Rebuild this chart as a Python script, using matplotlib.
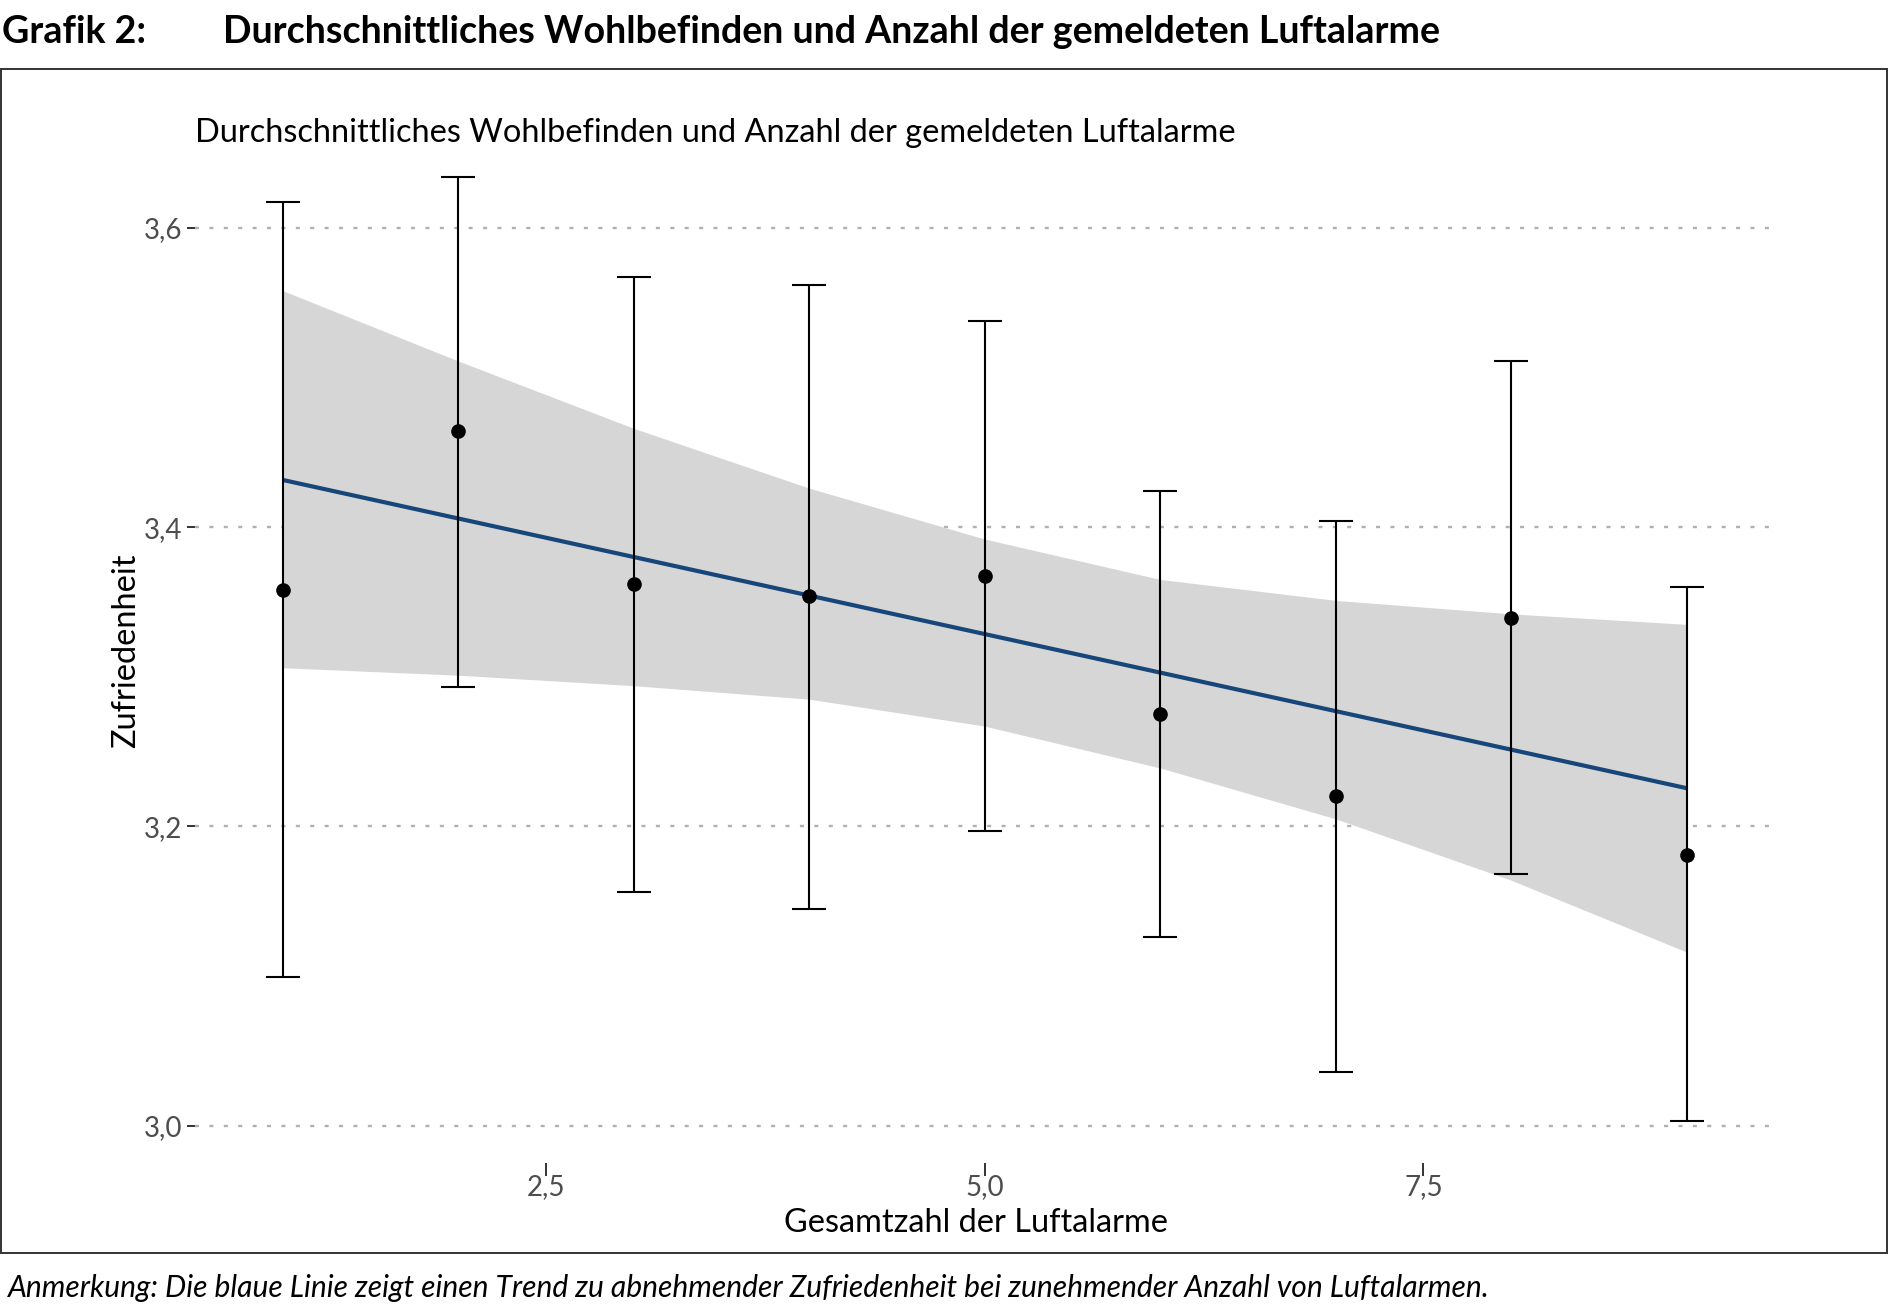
import matplotlib
matplotlib.use("Agg")
import matplotlib.pyplot as plt
from matplotlib.patches import Rectangle
from matplotlib.ticker import FuncFormatter

plt.rcParams['font.family'] = ['Lato', 'DejaVu Sans']

# ---- data ----
alarms = [1, 2, 3, 4, 5, 6, 7, 8, 9]
mean_sat = [3.358, 3.464, 3.362, 3.354, 3.367, 3.275, 3.220, 3.339, 3.181]
ci_upper = [3.617, 3.634, 3.567, 3.562, 3.538, 3.424, 3.404, 3.511, 3.360]
ci_lower = [3.099, 3.293, 3.156, 3.145, 3.197, 3.126, 3.036, 3.168, 3.003]

trend_x = [1, 9]
trend_y = [3.4315, 3.2255]
band_upper = [3.558, 3.511, 3.466, 3.426, 3.392, 3.365, 3.351, 3.342, 3.335]
band_lower = [3.306, 3.301, 3.294, 3.285, 3.267, 3.239, 3.205, 3.164, 3.116]

x_ticks = [2.5, 5.0, 7.5]
y_ticks = [3.0, 3.2, 3.4, 3.6]

W, H = 1890, 1311
fig = plt.figure(figsize=(W / 100, H / 100), dpi=100)

# outer frame
fig.patches.append(Rectangle((1 / W, 1 - 1253 / H), 1886 / W, (1253 - 69) / H,
                             transform=fig.transFigure, fill=False,
                             edgecolor='#333333', linewidth=1.4))

left, right, top, bottom = 195, 1770, 153, 1163
ax = fig.add_axes([left / W, 1 - bottom / H, (right - left) / W, (bottom - top) / H])

ax.fill_between(alarms, band_lower, band_upper, color='#d6d6d6', linewidth=0, zorder=1)
ax.plot(trend_x, trend_y, color='#17467a', linewidth=3.0, zorder=3, solid_capstyle='butt')
yerr = [[m - lo for m, lo in zip(mean_sat, ci_lower)],
        [hi - m for m, hi in zip(mean_sat, ci_upper)]]
ax.errorbar(alarms, mean_sat, yerr=yerr, fmt='o', color='black', ecolor='black',
            elinewidth=1.5, capsize=12.5, capthick=1.5, markersize=9.5, zorder=4)

ax.set_xlim(0.5, 9.475)
ax.set_ylim(2.975, 3.65)
ax.set_xticks(x_ticks)
ax.set_yticks(y_ticks)
fmt = FuncFormatter(lambda v, p: f"{v:.1f}".replace('.', ','))
ax.xaxis.set_major_formatter(fmt)
ax.yaxis.set_major_formatter(fmt)

ax.grid(axis='y', color='#b0b0b0', linewidth=1.7, linestyle=(0, (1.7, 4.4)), zorder=0)
ax.grid(axis='x', visible=False)
ax.set_axisbelow(True)
for s in ax.spines.values():
    s.set_visible(False)
ax.tick_params(axis='y', length=5.8, width=1.4, color='#333333', pad=3.5,
               labelsize=20, labelcolor='#4d4d4d')
ax.tick_params(axis='x', length=9, width=1.4, color='#333333', pad=-1,
               labelsize=20, labelcolor='#4d4d4d')

# texts
fig.text(2 / W, 1 - 43 / H, "Grafik 2:", fontsize=27.1, fontweight='bold',
         ha='left', va='baseline')
fig.text(223 / W, 1 - 43 / H,
         "Durchschnittliches Wohlbefinden und Anzahl der gemeldeten Luftalarme",
         fontsize=27.1, fontweight='bold', ha='left', va='baseline')
fig.text(195 / W, 1 - 142 / H,
         "Durchschnittliches Wohlbefinden und Anzahl der gemeldeten Luftalarme",
         fontsize=23.4, ha='left', va='baseline', color='black')
fig.text(976 / W, 1 - 1232 / H, "Gesamtzahl der Luftalarme", fontsize=23.4,
         ha='center', va='baseline')
fig.text(126 / W, 1 - 651 / H, "Zufriedenheit", fontsize=23.4, rotation=90,
         ha='center', va='center')
fig.text(8 / W, 1 - 1297 / H,
         "Anmerkung: Die blaue Linie zeigt einen Trend zu abnehmender Zufriedenheit "
         "bei zunehmender Anzahl von Luftalarmen.",
         fontsize=21.6, fontstyle='italic', ha='left', va='baseline')

fig.savefig("out.png", dpi=100)
